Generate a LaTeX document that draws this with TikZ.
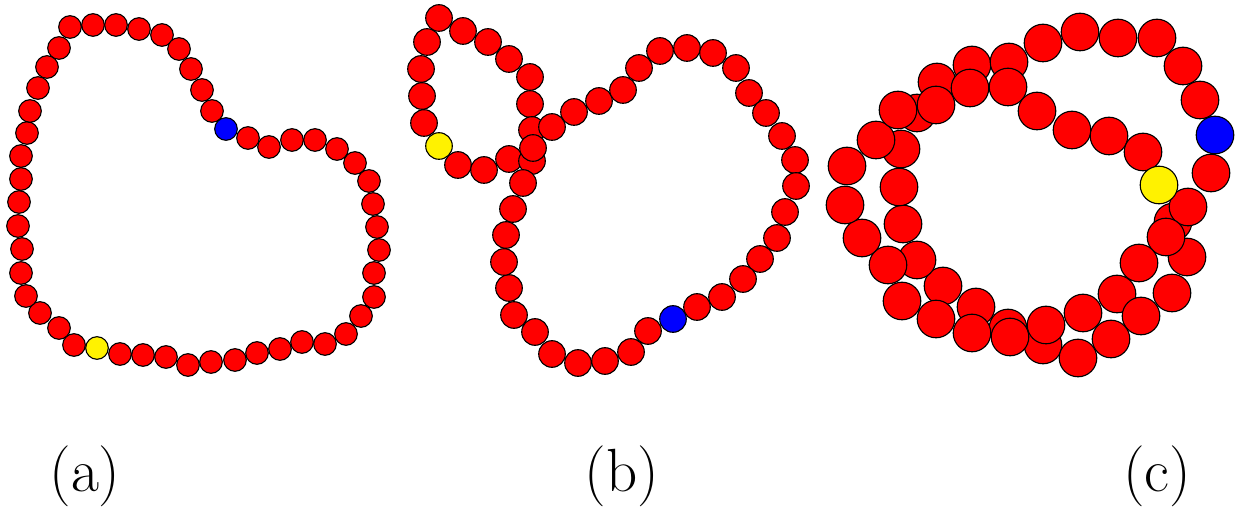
\documentclass[tikz,border=0pt]{standalone}
\begin{document}
\begin{tikzpicture}[x=0.5pt,y=-0.5pt,
  ballA/.style={draw=black,line width=0.55pt,circle,minimum size=22.6*0.5pt,inner sep=0pt},
  ballB/.style={draw=black,line width=0.55pt,circle,minimum size=26.6*0.5pt,inner sep=0pt},
  ballC/.style={draw=black,line width=0.55pt,circle,minimum size=37.6*0.5pt,inner sep=0pt},
  lab/.style={inner sep=0pt,font=\fontsize{30.5}{36}\selectfont}]
\useasboundingbox (0,0) rectangle (1236,507);
% panel (a)
\foreach \x/\y [count=\i] in {248/138,269/147,292/140,315/140,337/149,355/163,369/181,373/204,377/227,379/250,374/273,374/297,361/316,346/334,325/344,302/342,280/349,257/353,235/360,211/362,188/365,166/357,143/355,120/354,74/345,59/328,40/313,26/296,21/273,22/249,18/226,19/202,21/179,21/156,27/133,30/111,38/88,47/67,59/48,70/27,93/25,116/25,139/29,162/35,179/49,191/69,202/90,212/111}
  \node[ballA,fill=red] (a\i) at (\x,\y) {};
\node[ballA,fill=blue] (ablue) at (226,129) {};
\node[ballA,fill=yellow] (ayellow) at (97,348) {};
% panel (b)
\foreach \x/\y [count=\i] in {427/42,421/69,422/96,424/123,458/165,484/170,509/159,532/161,439/18,463/31,488/42,509/59,530/77,530/104,532/130,599/101,623/90,639/68,660/51,687/48,713/53,736/68,749/93,766/113,782/136,795/160,796/186,785/212,777/238,760/259,743/279,722/297,697/307,648/331,631/352,605/361,578/363,552/354,535/332,514/315,509/288,504/262,506/235,513/209,523/183,574/112,552/127,533/148}
  \node[ballB,fill=red] (b\i) at (\x,\y) {};
\node[ballB,fill=yellow] (byellow) at (439,146) {};
\node[ballB,fill=blue] (bblue) at (673,319) {};
% panel (c)
\foreach \x/\y [count=\i] in {1043/345,1078/358,1008/328,976/307,943/286,917/260,903/224,899/187,901/149,847/166,876/140,937/82,972/65,1009/62,1043/43,1080/32,1118/38,1157/38,1183/66,1200/100,1211/173,1173/222,1187/257,1117/294,1083/313,1046/325,1010/337,972/333,936/319,902/301,888/265,862/238,845/205,917/113,898/110,936/105,970/88,1008/87,1037/111,1072/130,1109/136,1143/152,1172/293,1141/316,1111/339,1188/207,1166/237,1139/263}
  \node[ballC,fill=red] (c\i) at (\x,\y) {};
\node[ballC,fill=yellow] (cyellow) at (1159,185) {};
\node[ballC,fill=blue] (cblue) at (1215,135) {};
% labels
\node[lab] (la) at (85,476) {(a)};
\node[lab] (lb) at (622,476) {(b)};
\node[lab] (lc) at (1157,476) {(c)};
\end{tikzpicture}
\end{document}
